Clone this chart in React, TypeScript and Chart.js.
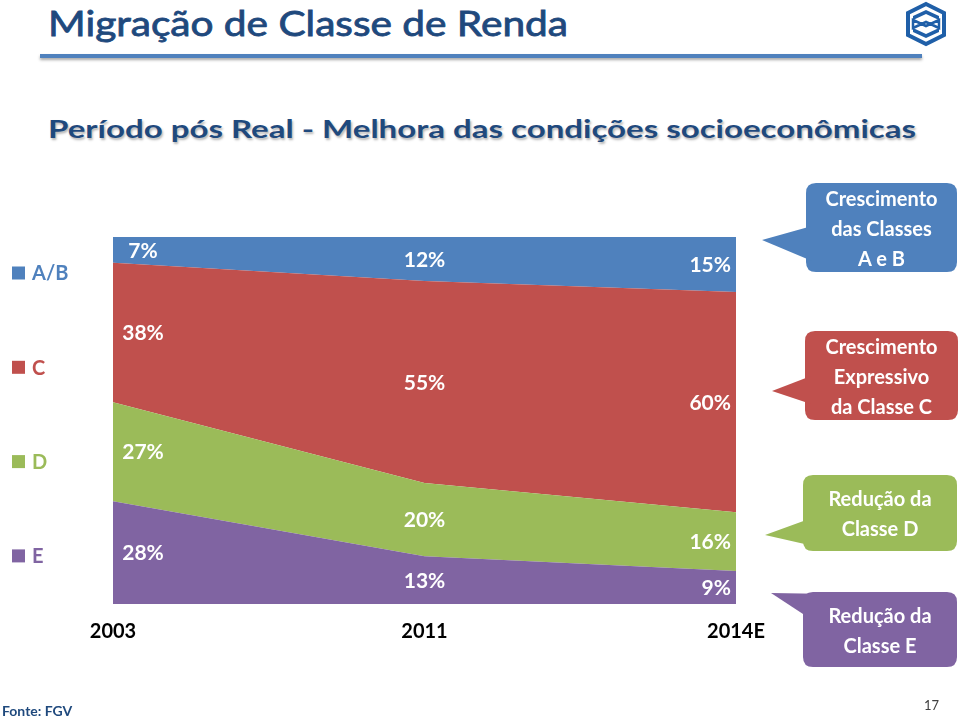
import React, { useEffect, useRef } from "react";
import { Chart, registerables } from "chart.js";

Chart.register(...registerables);

const years = ["2003", "2011", "2014E"];
const classE = [28, 13, 9];
const classD = [27, 20, 16];
const classC = [38, 55, 60];
const classAB = [7, 12, 15];

const seriesNames = ["E", "D", "C", "A/B"];
const seriesColors = ["#8064A2", "#9BBB59", "#C0504D", "#4F81BD"];

const FONT = "Lato, 'Open Sans', sans-serif";

function FitText(props: { text: string; left: number; top: number; width: number; style: React.CSSProperties }) {
  const ref = useRef<HTMLDivElement | null>(null);
  useEffect(() => {
    const el = ref.current;
    if (!el) return;
    el.style.transform = "none";
    const w = el.getBoundingClientRect().width;
    if (w > 0) el.style.transform = `scaleX(${props.width / w})`;
  }, [props.text, props.width]);
  return (
    <div
      ref={ref}
      style={{
        position: "absolute",
        left: props.left,
        top: props.top,
        whiteSpace: "nowrap",
        transformOrigin: "0 0",
        ...props.style,
      }}
    >
      {props.text}
    </div>
  );
}

const legendPlugin = {
  id: "sideLegend",
  afterDraw(chart: any) {
    const { ctx, chartArea } = chart;
    const ds = chart.data.datasets;
    ctx.save();
    ctx.font = `700 20px ${FONT}`;
    ctx.textBaseline = "middle";
    ctx.textAlign = "left";
    const order = [...ds.keys()].reverse();
    order.forEach((di: number, i: number) => {
      const d = ds[di];
      const y = chartArea.top + 36 + i * 94.3;
      ctx.fillStyle = d.backgroundColor;
      ctx.fillRect(12, y - 6.5, 13, 13);
      ctx.fillText(d.label, 32, y + 1);
    });
    ctx.restore();
  },
};

const valueLabelPlugin = {
  id: "valueLabels",
  afterDatasetsDraw(chart: any) {
    const { ctx } = chart;
    const xs = chart.scales.x;
    const ys = chart.scales.y;
    const ds = chart.data.datasets;
    ctx.save();
    ctx.font = `700 21px ${FONT}`;
    ctx.fillStyle = "#ffffff";
    ctx.textBaseline = "middle";
    const n = chart.data.labels.length;
    for (let j = 0; j < n; j++) {
      let cum = 0;
      const xp = xs.getPixelForValue(j);
      for (let i = 0; i < ds.length; i++) {
        const v = ds[i].data[j];
        const y0 = ys.getPixelForValue(cum);
        const y1 = ys.getPixelForValue(cum + v);
        cum += v;
        const yc = (y0 + y1) / 2 + 1;
        let x = xp;
        if (j === 0) {
          ctx.textAlign = "center";
          x = xp + 30;
        } else if (j === n - 1) {
          ctx.textAlign = "right";
          x = xp - 5;
        } else {
          ctx.textAlign = "center";
        }
        ctx.fillText(`${v}%`, x, yc);
      }
    }
    ctx.restore();
  },
};

function AreaChart() {
  const canvasRef = useRef<HTMLCanvasElement | null>(null);
  useEffect(() => {
    const canvas = canvasRef.current;
    if (!canvas) return;
    const values = [classE, classD, classC, classAB];
    const chart = new Chart(canvas, {
      type: "line",
      data: {
        labels: years,
        datasets: values.map((vals, i) => ({
          label: seriesNames[i],
          data: vals,
          backgroundColor: seriesColors[i],
          borderColor: "rgba(0,0,0,0)",
          borderWidth: 0,
          pointRadius: 0,
          tension: 0,
          fill: i === 0 ? "origin" : "-1",
        })),
      },
      options: {
        animation: false,
        responsive: false,
        maintainAspectRatio: false,
        layout: { padding: { left: 113, right: 54, top: 77, bottom: 0 } },
        plugins: {
          legend: { display: false },
          tooltip: { enabled: false },
          title: { display: false },
        },
        scales: {
          x: {
            type: "category",
            offset: false,
            grid: { display: false, drawTicks: false },
            border: { display: false },
            ticks: {
              color: "#000000",
              font: { family: FONT, size: 20, weight: "bold" },
              padding: 16,
              maxRotation: 0,
              autoSkip: false,
            },
            afterFit: (scale: any) => {
              scale.height = 56;
            },
          },
          y: {
            stacked: true,
            display: false,
            min: 0,
            max: 100,
          },
        },
      },
      plugins: [legendPlugin, valueLabelPlugin],
    } as any);
    return () => chart.destroy();
  }, []);
  return (
    <canvas
      ref={canvasRef}
      width={790}
      height={500}
      style={{ position: "absolute", left: 0, top: 160, width: 790, height: 500 }}
    />
  );
}

type Callout = {
  lines: string[];
  color: string;
  x: number;
  y: number;
  w: number;
  h: number;
  tail: number[][];
};

const callouts: Callout[] = [
  {
    lines: ["Crescimento", "das Classes", "A e B"],
    color: "#4F81BD",
    x: 806, y: 183, w: 151, h: 89,
    tail: [[812, 226], [762, 240], [812, 261]],
  },
  {
    lines: ["Crescimento", "Expressivo", "da Classe C"],
    color: "#C0504D",
    x: 805, y: 331, w: 153, h: 89,
    tail: [[811, 376], [772, 391], [811, 404]],
  },
  {
    lines: ["Redução da", "Classe D"],
    color: "#9BBB59",
    x: 803, y: 475, w: 154, h: 76,
    tail: [[809, 519], [765, 535], [809, 545]],
  },
  {
    lines: ["Redução da", "Classe E"],
    color: "#8064A2",
    x: 803, y: 592, w: 154, h: 75,
    tail: [[803, 614], [771, 593], [833, 594]],
  },
];

function roundRectPath(x: number, y: number, w: number, h: number, r: number) {
  return `M${x + r},${y} H${x + w - r} Q${x + w},${y} ${x + w},${y + r} V${y + h - r} Q${x + w},${y + h} ${x + w - r},${y + h} H${x + r} Q${x},${y + h} ${x},${y + h - r} V${y + r} Q${x},${y} ${x + r},${y} Z`;
}

export default function App() {
  return (
    <div
      style={{
        position: "absolute",
        left: 0,
        top: 0,
        width: 960,
        height: 719,
        background: "#ffffff",
        overflow: "hidden",
        fontFamily: FONT,
      }}
    >
      <FitText
        text="Migração de Classe de Renda"
        left={48}
        top={2}
        width={520}
        style={{
          fontSize: 34,
          lineHeight: "42px",
          color: "#1F497D",
          fontWeight: 400,
          WebkitTextStroke: "0.8px #1F497D",
        }}
      />
      <div
        style={{
          position: "absolute",
          left: 40,
          top: 54,
          width: 882,
          height: 4,
          background: "#4F81BD",
          boxShadow: "0 2px 3px rgba(0,0,0,0.35)",
        }}
      />
      <svg
        width={44}
        height={46}
        viewBox="0 0 44 46"
        style={{ position: "absolute", left: 904, top: 1 }}
      >
        <polygon points="22,3 40,12 40,34 22,43 4,34 4,12" fill="none" stroke="#1F5FA8" strokeWidth={4} />
        <polygon points="9,15 22,9 35,15 35,19 22,13 9,19" fill="#1F5FA8" />
        <polygon points="9,27 22,33 35,27 35,31 22,37 9,31" fill="#1F5FA8" />
        <polygon points="9,19 22,25 35,19 35,27 22,21 9,27" fill="none" stroke="#1F5FA8" strokeWidth={2.5} />
      </svg>
      <FitText
        text="Período pós Real - Melhora das condições socioeconômicas"
        left={48}
        top={112}
        width={868}
        style={{
          fontSize: 25,
          lineHeight: "32px",
          fontWeight: 700,
          color: "#1F497D",
          textShadow: "1px 2px 2px rgba(0,0,0,0.3)",
        }}
      />
      <AreaChart />
      <svg width={960} height={719} style={{ position: "absolute", left: 0, top: 0, pointerEvents: "none" }}>
        {callouts.map((c, i) => (
          <g key={i} fill={c.color}>
            <path d={roundRectPath(c.x, c.y, c.w, c.h, 10)} />
            <polygon points={c.tail.map((p) => p.join(",")).join(" ")} />
          </g>
        ))}
      </svg>
      {callouts.map((c, i) => (
        <div
          key={i}
          style={{
            position: "absolute",
            left: c.x,
            top: c.y,
            width: c.w,
            height: c.h,
            display: "flex",
            flexDirection: "column",
            justifyContent: "center",
            alignItems: "center",
            color: "#ffffff",
            fontWeight: 700,
            fontSize: 20,
            lineHeight: "30px",
          }}
        >
          {c.lines.map((l, k) => (
            <div key={k}>{l}</div>
          ))}
        </div>
      ))}
      <div
        style={{
          position: "absolute",
          left: 2,
          top: 702,
          fontSize: 14,
          fontWeight: 700,
          color: "#1F497D",
          lineHeight: "18px",
        }}
      >
        Fonte: FGV
      </div>
      <div
        style={{
          position: "absolute",
          left: 924,
          top: 697,
          fontSize: 13,
          color: "#404040",
          lineHeight: "16px",
        }}
      >
        17
      </div>
    </div>
  );
}
